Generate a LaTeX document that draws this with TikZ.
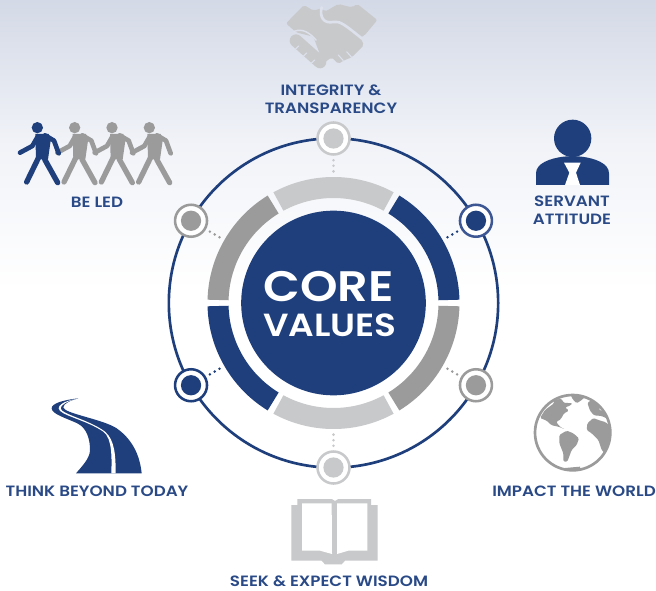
\documentclass[tikz,border=0pt]{standalone}
\usepackage{fontspec}
\setmainfont{Poppins}
\newfontfamily\labfont{Poppins}[UprightFont=* SemiBold,FakeStretch=1.12]
\newfontfamily\corefont{Poppins}[UprightFont=* SemiBold,FakeStretch=1.12]
\definecolor{navy}{HTML}{1E3F7C}
\definecolor{labelblue}{HTML}{2A4A87}
\definecolor{midgray}{HTML}{9B9B9B}
\definecolor{lightgray}{HTML}{C8C9CB}
\definecolor{ringblue}{HTML}{3D5795}
\definecolor{topbg}{HTML}{D3D9E6}
\definecolor{midbg}{HTML}{F1F3F8}
\definecolor{handbg}{HTML}{DDE1EC}
\tikzset{
  lab/.style={font=\labfont\fontsize{11.2}{13.5}\selectfont,text=labelblue,align=center,inner sep=0pt},
  marker/.style n args={2}{circle,draw=#1,fill=white,line width=1.9pt,minimum size=24pt,inner sep=0pt,
    path picture={\fill[#2] (path picture bounding box.center) circle (7.6pt);}},
  dots/.style={draw=#1,line width=2.1pt,line cap=round,dash pattern=on 0pt off 4.15pt,shorten <=3.4pt},
  icon/.style={x=.25pt,y=-.25pt}
}
\newcommand{\walkfig}[2]{%
  \begin{scope}[shift={(#1,0)},#2,line cap=round,line join=round]
    \fill (112,53) circle (17);
    \fill (106,72) -- (146,72) -- (152,92) -- (144,148) -- (108,148) -- cycle;
    \draw[line width=3.5pt,fill=none] (112,82) -- (97,108) -- (60,128);
    \draw[line width=3.5pt,fill=none] (135,76) -- (162,92) -- (176,130);
    \draw[line width=4pt,fill=none] (118,138) -- (80,216);
    \draw[line width=4pt,fill=none] (134,148) -- (173,218);
  \end{scope}}
\begin{document}
\begin{tikzpicture}[x=.75pt,y=-.75pt]
\useasboundingbox (0,0) rectangle (656,591);
\fill[white] (0,0) rectangle (656,591);
\shade[top color=topbg,bottom color=white,middle color=midbg] (0,0) rectangle (656,290);

% outer circle, rings, core
\coordinate (c) at (333.5,303);
\node[circle,draw=navy,line width=2pt,minimum size=247pt,inner sep=0pt] (orbit) at (c) {};
\begin{scope}[shift={(c)}]
  \foreach \a/\b/\col in {-118.5/-61.5/lightgray,-58.5/-1.5/navy,1.5/58.5/midgray,61.5/118.5/lightgray,121.5/178.5/navy,-178.5/-121.5/midgray}{
    \fill[\col] (\a:126) arc (\a:\b:126) -- (\b:105) arc (\b:\a:105) -- cycle;
  }
  \coordinate (d1) at (-90:130);
  \coordinate (d2) at (-150:130);
  \coordinate (d3) at (-30:130);
  \coordinate (d4) at (150:130);
  \coordinate (d5) at (30:130);
  \coordinate (d6) at (90:130);
  \coordinate (m1) at (-90:164.5);
  \coordinate (m2) at (-150:164.5);
  \coordinate (m3) at (-30:164.5);
  \coordinate (m4) at (150:164.5);
  \coordinate (m5) at (30:164.5);
  \coordinate (m6) at (90:164.5);
\end{scope}
\node[circle,fill=navy,minimum size=138.5pt,inner sep=0pt] (core) at (c) {};
\node[font=\corefont\fontsize{32}{32}\selectfont,text=white,inner sep=0pt] (coretxt) at (328.5,287) {CORE};
\node[font=\corefont\fontsize{24}{24}\selectfont,text=white,inner sep=0pt] (valtxt) at (330,325) {VALUES};

% markers
\node[marker={lightgray}{lightgray}] (n1) at (m1) {};
\node[marker={midgray}{midgray}] (n2) at (m2) {};
\node[marker={ringblue}{navy}] (n3) at (m3) {};
\node[marker={navy}{navy}] (n4) at (m4) {};
\node[marker={midgray}{midgray}] (n5) at (m5) {};
\node[marker={lightgray}{lightgray}] (n6) at (m6) {};
\draw[dots=lightgray] (n1) -- (d1);
\draw[dots=midgray] (n2) -- (d2);
\draw[dots=navy] (n3) -- (d3);
\draw[dots=navy] (n4) -- (d4);
\draw[dots=midgray] (n5) -- (d5);
\draw[dots=lightgray] (n6) -- (d6);

% labels
\node[lab] (l1) at (331,99) {INTEGRITY \&\\TRANSPARENCY};
\node[lab] (l2) at (97,202.5) {BE LED};
\node[lab] (l3) at (572,210.5) {SERVANT\\ATTITUDE};
\node[lab] (l4) at (97,491.5) {THINK BEYOND TODAY};
\node[lab] (l5) at (574,491.5) {IMPACT THE WORLD};
\node[lab] (l6) at (329,581.5) {SEEK \& EXPECT WISDOM};

% handshake
\begin{scope}[shift={(280,0)},icon]
  \fill[lightgray,rounded corners=1.5pt] (72,15) -- (18,70) -- (48,97) -- (100,110) -- (130,190) -- (155,172) -- (175,192) -- (190,182) -- (215,172) -- (235,152) -- (252,135) -- (240,112) -- (252,108) -- (292,60) -- (232,12) -- (215,22) -- (175,12) -- (135,35) -- (125,25) -- (100,32) -- cycle;
  \draw[lightgray,line width=9.5pt,line cap=round] (48,122) -- (120,186);
  \draw[handbg,line width=2pt,line cap=round,fill=none] (125,22) .. controls (118,50) and (130,72) .. (160,66) .. controls (180,62) and (195,75) .. (245,115);
  \draw[handbg,line width=1.1pt,line cap=round,fill=none] (42,94) .. controls (70,84) and (90,100) .. (108,120);
  \draw[handbg,line width=.8pt,line cap=round] (45,149) -- (56,138);
  \draw[handbg,line width=.8pt,line cap=round] (69,170) -- (80,159);
  \draw[handbg,line width=.8pt,line cap=round] (93,191) -- (104,180);
  \draw[handbg,line width=.8pt,line cap=round] (215,172) -- (200,155);
  \draw[handbg,line width=.8pt,line cap=round] (190,182) -- (175,165);
\end{scope}

% walkers
\begin{scope}[shift={(0,110)},icon]
  \walkfig{336}{midgray,draw=midgray,fill=midgray}
  \walkfig{224}{midgray,draw=midgray,fill=midgray}
  \walkfig{112}{midgray,draw=midgray,fill=midgray}
  \walkfig{0}{navy,draw=navy,fill=navy}
\end{scope}

% servant
\begin{scope}[shift={(510,105)},icon]
  \fill[navy] (188,100) circle (56);
  \fill[navy] (78,240) -- (78,205) .. controls (78,175) and (120,160) .. (160,155) .. controls (180,153) and (195,153) .. (215,155) .. controls (255,160) and (297,175) .. (297,205) -- (297,240) -- cycle;
  \fill[white] (162,173) -- (212,173) -- (198,203) -- (210,240) -- (165,240) -- (178,203) -- cycle;
\end{scope}

% road
\begin{scope}[shift={(0,390)},icon]
  \fill[navy] (235,25) .. controls (190,30) and (155,40) .. (155,55) .. controls (155,72) and (200,85) .. (232,100) .. controls (262,115) and (270,150) .. (270,180) .. controls (270,205) and (245,230) .. (228,250) -- (425,250) .. controls (420,200) and (400,150) .. (350,115) .. controls (310,88) and (190,70) .. (190,52) .. controls (190,40) and (215,30) .. (235,25) -- cycle;
  \fill[white] (225,27) .. controls (190,35) and (176,45) .. (176,55) .. controls (176,75) and (260,90) .. (310,125) .. controls (338,145) and (335,210) .. (334,250) -- (347,250) .. controls (347,200) and (345,150) .. (315,125) .. controls (270,90) and (182,72) .. (182,55) .. controls (182,45) and (200,35) .. (225,27) -- cycle;
\end{scope}

% globe
\begin{scope}[shift={(530,390)},icon]
  \draw[midgray,line width=2pt] (128,128) circle (113);
  \begin{scope}
    \clip (128,128) circle (113);
    \fill[midgray,rounded corners=1pt] (30,84) -- (45,60) -- (72,40) -- (72,30) -- (95,26) -- (100,38) -- (128,40) -- (118,48) -- (105,52) -- (117,62) -- (102,70) -- (92,88) -- (78,96) -- (92,112) -- (106,118) -- (85,110) -- (65,106) -- (50,92) -- cycle;
    \fill[midgray,rounded corners=1pt] (122,14) -- (170,14) -- (158,28) -- (140,40) -- (128,28) -- cycle;
    \fill[midgray,rounded corners=1pt] (88,135) -- (110,122) -- (130,130) -- (147,145) -- (140,165) -- (125,180) -- (112,215) -- (100,215) -- (100,190) -- (88,160) -- cycle;
    \fill[midgray,rounded corners=1pt] (172,100) -- (190,84) -- (205,90) -- (228,97) -- (245,115) -- (240,150) -- (225,190) -- (215,180) -- (205,150) -- (185,130) -- (170,120) -- cycle;
    \fill[midgray,rounded corners=1pt] (172,38) -- (195,25) -- (218,48) -- (205,58) -- (235,72) -- (240,90) -- (215,78) -- (192,76) -- (180,62) -- cycle;
    \fill[midgray] (105,234) -- (150,230) -- (150,245) -- (105,245) -- cycle;
  \end{scope}
\end{scope}

% book
\begin{scope}[shift={(220,440)},icon]
  \fill[lightgray] (214,195) -- (232,195) -- (232,177) -- (335,177) -- (345,183) -- (355,177) -- (453,177) -- (453,195) -- (473,195) -- (473,362) -- (375,362) -- (365,373) -- (315,373) -- (305,362) -- (214,362) -- cycle;
  \fill[white] (246,190) -- (335,190) -- (336,342) -- (300,332) -- (246,332) -- cycle;
  \fill[white] (351,190) -- (442,190) -- (442,332) -- (385,332) -- (351,342) -- cycle;
\end{scope}
\end{tikzpicture}
\end{document}
